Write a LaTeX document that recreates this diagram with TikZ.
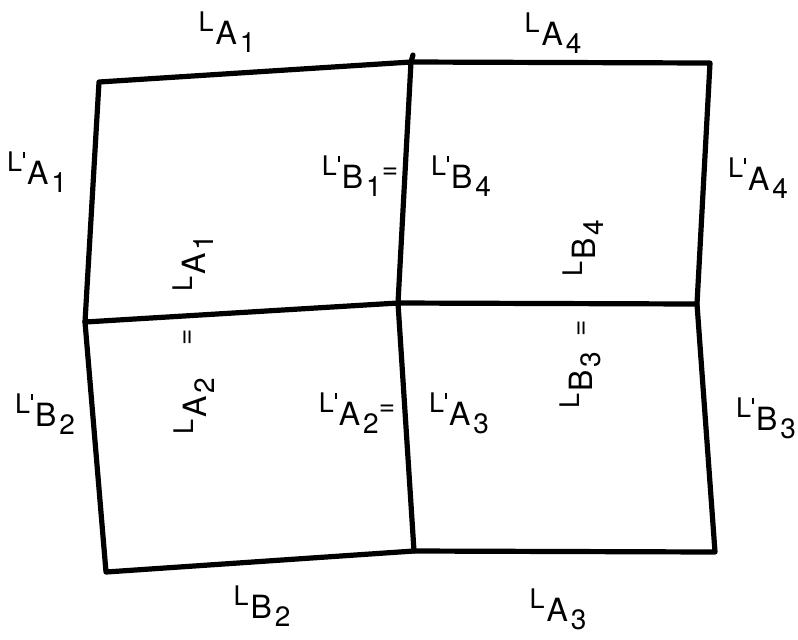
\documentclass[tikz,border=0pt]{standalone}
\usepackage{fontspec}
\setmainfont{TeX Gyre Heros}
\usetikzlibrary{positioning}
% L with raised L and lowered index
\newcommand{\lsym}[3]{%
  \raisebox{6.5pt}{\fontsize{13.5}{15}\selectfont L#1}\kern1pt
  {\fontsize{16}{18}\selectfont #2}\kern1.5pt
  \raisebox{-4pt}{\fontsize{14}{15}\selectfont #3}}
\newcommand{\pr}{\kern0.6pt\rule[6.5pt]{0.9pt}{3.2pt}}
\newcommand{\eqs}{\raisebox{5pt}{\fontsize{14}{15}\selectfont =}}
\tikzset{
  edge/.style={line width=2.6pt, line join=round, line cap=round},
  lbl/.style={inner sep=0pt, anchor=center},
  vlbl/.style={lbl, rotate=90},
}
\begin{document}
\begin{tikzpicture}[x=0.5pt,y=-0.5pt]
  \useasboundingbox (0,0) rectangle (798,639);
  % grid corners
  \coordinate (tl) at (99,82);
  \coordinate (tm) at (411,62);
  \coordinate (tx) at (413,55);
  \coordinate (tr) at (710,63);
  \coordinate (ml) at (85,322);
  \coordinate (c)  at (398,303);
  \coordinate (mr) at (697,304);
  \coordinate (bl) at (106,572);
  \coordinate (bm) at (414,551);
  \coordinate (br) at (715,552);
  \draw[edge] (tl) -- (tm) -- (tr) -- (mr) -- (br) -- (bm) -- (bl) -- (ml) -- cycle;
  \draw[edge] (ml) -- (c) -- (mr);
  \draw[edge] (tx) -- (tm) -- (c) -- (bm);
  % outer labels
  \node[lbl] (a1t) at (227,32)  {\lsym{}{A}{1}};
  \node[lbl] (a4t) at (553,33)  {\lsym{}{A}{4}};
  \node[lbl] (pa1) at (37,172)  {\lsym{\pr}{A}{1}};
  \node[lbl] (pa4) at (758,178) {\lsym{\pr}{A}{4}};
  \node[lbl] (pb2) at (45,414)  {\lsym{\pr}{B}{2}};
  \node[lbl] (pb3) at (766,418) {\lsym{\pr}{B}{3}};
  \node[lbl] (b2b) at (262,606) {\lsym{}{B}{2}};
  \node[lbl] (a3b) at (558,609) {\lsym{}{A}{3}};
  % inner labels
  \node[lbl] (pb1) at (360,176) {\lsym{\pr}{B}{1}\eqs};
  \node[lbl] (pb4) at (461,176) {\lsym{\pr}{B}{4}};
  \node[lbl] (pa2) at (357,413) {\lsym{\pr}{A}{2}\eqs};
  \node[lbl] (pa3) at (459,413) {\lsym{\pr}{A}{3}};
  \node[vlbl] (a1v) at (193,263) {\lsym{}{A}{1}};
  \node[vlbl] (e12) at (189,337) {\fontsize{14}{15}\selectfont =};
  \node[vlbl] (a2v) at (194,406) {\lsym{}{A}{2}};
  \node[vlbl] (b4v) at (583,248) {\lsym{}{B}{4}};
  \node[vlbl] (e43) at (583,328) {\fontsize{14}{15}\selectfont =};
  \node[vlbl] (b3v) at (580,380) {\lsym{}{B}{3}};
\end{tikzpicture}
\end{document}
